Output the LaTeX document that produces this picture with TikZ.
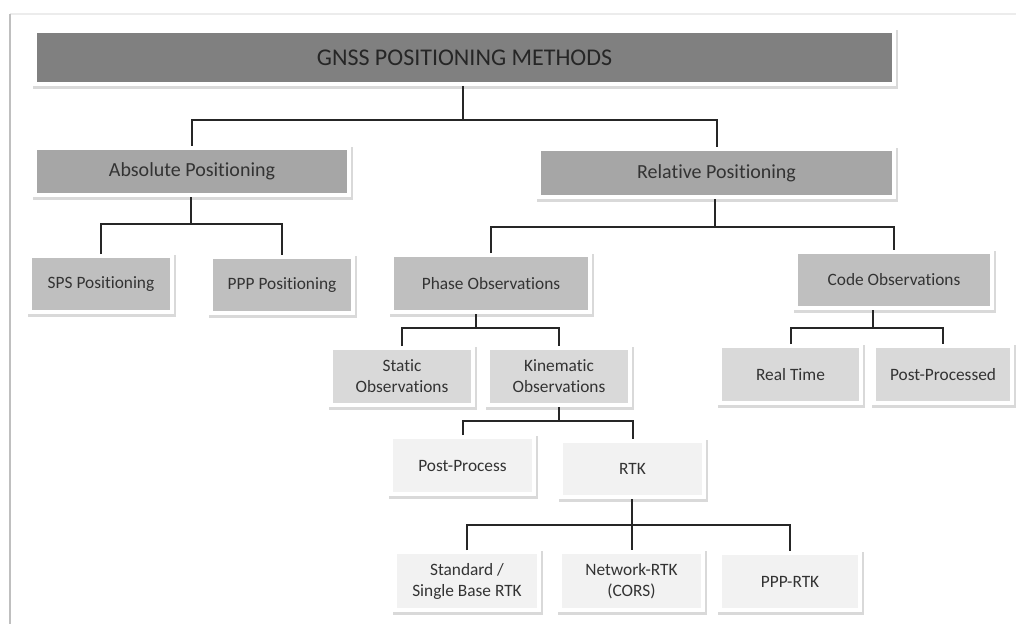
\documentclass[tikz,border=0pt]{standalone}
\usepackage{fontspec}
\setmainfont{Carlito}[Ligatures=NoCommon]
\usetikzlibrary{shadows}
\definecolor{cA}{HTML}{808080}
\definecolor{cB}{HTML}{A6A6A6}
\definecolor{cC}{HTML}{BFBFBF}
\definecolor{cD}{HTML}{D9D9D9}
\definecolor{cE}{HTML}{F2F2F2}
\definecolor{txt}{HTML}{333333}
\definecolor{lnk}{HTML}{262626}
\tikzset{
  box/.style={draw=white, line width=3pt, text=txt, inner sep=0pt, align=center,
    font=\fontsize{13}{15.75}\selectfont,
    general shadow={shadow xshift=0.5pt, shadow yshift=-1.2pt, draw=black!15, fill=black!15, line width=4.6pt}},
  conn/.style={draw=lnk, line width=1.5pt},
}
\newcommand\bx[8]{\node[box, fill=#6, minimum width={(#4-#2+4)*0.75pt}, minimum height={(#5-#3+4)*0.75pt}, #8] (#1) at ({(#2+#4)/2},{(#3+#5)/2}) {#7};}
\begin{document}
\begin{tikzpicture}[x=0.75pt,y=-0.75pt]
\useasboundingbox (0,0) rectangle (1016,624);
\fill[white] (0,0) rectangle (1016,624);
% frame
\draw[gray!15, line width=1.2pt] (10,14) -- (1016,14);
\draw[gray!50, line width=1.5pt] (10,14) -- (10,624);
% boxes
\bx{title}{37}{33}{892}{82}{cA}{GNSS POSITIONING METHODS}{font=\fontsize{18}{21}\selectfont, text=black!85}
\bx{abs}{37}{150}{347}{193}{cB}{Absolute Positioning}{font=\fontsize{15}{18}\selectfont}
\bx{rel}{541}{151}{892}{195}{cB}{Relative Positioning}{font=\fontsize{15}{18}\selectfont}
\bx{sps}{32}{258}{170}{310}{cC}{SPS Positioning}{}
\bx{ppp}{213}{259}{351}{311}{cC}{PPP Positioning}{}
\bx{phase}{394}{257}{588}{310}{cC}{Phase Observations}{}
\bx{code}{798}{254}{990}{306}{cC}{Code Observations}{}
\bx{stat}{333}{350}{471}{403}{cD}{Static\\Observations}{}
\bx{kin}{490}{350}{628}{403}{cD}{Kinematic\\Observations}{}
\bx{rt}{722}{348}{859}{401}{cD}{Real Time}{}
\bx{pp}{876}{348}{1010}{401}{cD}{Post-Processed}{}
\bx{ppr}{393}{439}{532}{492}{cE}{Post-Process}{}
\bx{rtk}{563}{443}{702}{495}{cE}{RTK}{}
\bx{std}{397}{554}{537}{608}{cE}{Standard /\\Single Base RTK}{}
\bx{net}{562}{554}{701}{608}{cE}{Network-RTK\\(CORS)}{}
\bx{pprtk}{722}{555}{858}{608}{cE}{PPP-RTK}{}
% connectors
\coordinate (b1) at (463,120);
\draw[conn] (title.south -| b1) -- (b1);
\draw[conn] (abs.north) |- (b1) -| (rel.north);
\coordinate (b2) at (191,224);
\draw[conn] (abs.south -| b2) -- (b2);
\draw[conn] (sps.north) |- (b2) -| (ppp.north);
\coordinate (b3) at (715,227);
\draw[conn] (rel.south -| b3) -- (b3);
\draw[conn] (phase.north) |- (b3) -| (code.north);
\coordinate (b4) at (476,328);
\draw[conn] (phase.south -| b4) -- (b4);
\draw[conn] (stat.north) |- (b4) -| (kin.north);
\coordinate (b5) at (873,328);
\draw[conn] (code.south -| b5) -- (b5);
\draw[conn] (rt.north) |- (b5) -| (pp.north);
\coordinate (b6) at (559,421);
\draw[conn] (kin.south -| b6) -- (b6);
\draw[conn] (ppr.north) |- (b6) -| (rtk.north);
\coordinate (b7) at (632,525);
\draw[conn] (rtk.south -| b7) -- (b7);
\draw[conn] (std.north) |- (b7) -| (pprtk.north);
\draw[conn] (b7) -- (net.north -| b7);
\end{tikzpicture}
\end{document}
